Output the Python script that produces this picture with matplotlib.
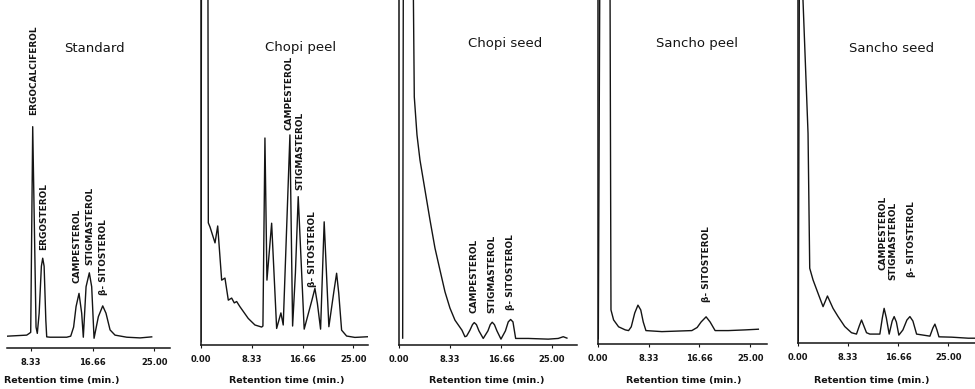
import matplotlib
matplotlib.use("Agg")
import matplotlib.pyplot as plt

# Retention time (min) / detector response (% of chart height).
# Values of 150 are the off-scale solvent front.
std_time   = [5.16, 7.77, 8.12, 8.31, 8.58, 9.03, 9.20, 9.45, 9.75, 9.93, 10.12, 10.35, 10.47,
              10.92, 13.17, 13.71, 14.10, 14.43, 14.83, 15.19, 15.41, 15.78, 16.22, 16.54, 16.86,
              17.44, 18.03, 18.47, 19.02, 19.69, 21.27, 23.07, 24.64]
std_signal = [3.4, 3.7, 4.2, 4.5, 63.6, 6.0, 4.2, 10.0, 23.5, 25.8, 23.5, 8.0, 3.2,
              3.1, 3.1, 3.4, 6.0, 11.9, 15.7, 10.0, 3.1, 17.6, 21.6, 17.6, 2.8,
              9.0, 12.1, 10.0, 5.2, 3.7, 3.1, 2.9, 3.2]

chopi_peel_time   = [0.0, 0.1, 1.1, 1.2, 1.48, 2.30, 2.74, 3.39, 3.93, 4.48, 5.03, 5.46, 5.85,
                     6.39, 7.75, 8.85, 9.95, 10.16, 10.49, 10.82, 11.59, 12.41, 13.11, 13.49,
                     14.59, 15.03, 15.49, 15.95, 16.93, 18.2, 18.69, 19.1, 19.62, 20.21, 20.98,
                     21.8, 22.25, 22.6, 23.07, 23.89, 25.25, 27.43]
chopi_peel_signal = [1.0, 150, 150, 35.4, 34.2, 29.6, 34.5, 18.8, 19.4, 13.0, 13.6, 12.2, 12.6,
                     11.1, 7.7, 5.8, 5.2, 5.5, 60.0, 18.8, 35.3, 4.8, 9.3, 5.8,
                     60.9, 5.5, 20.9, 43.0, 4.6, 13.0, 16.4, 12.0, 4.6, 35.7, 5.3,
                     15.5, 20.8, 15.0, 4.3, 2.6, 2.2, 2.4]

chopi_seed_time   = [0.60, 0.75, 2.10, 2.50, 2.94, 3.43, 4.25, 5.07, 5.88, 6.70, 7.52, 8.33,
                     9.15, 10.29, 10.78, 11.06, 11.60, 12.01, 12.30, 12.66, 13.07, 13.77,
                     14.54, 14.92, 15.24, 15.60, 16.01, 16.67, 17.40, 17.86, 18.25, 18.63,
                     19.07, 21.13, 24.40, 26.03, 26.85, 27.45]
chopi_seed_signal = [2.0, 150, 150, 71.9, 60.9, 53.6, 44.9, 36.2, 28.1, 21.7, 15.4, 10.7,
                     7.2, 4.3, 2.4, 2.6, 4.3, 5.9, 6.5, 5.9, 4.1, 1.9,
                     4.1, 5.9, 6.6, 5.9, 4.1, 1.7, 4.1, 6.7, 7.4, 6.7,
                     1.9, 1.9, 1.7, 1.9, 2.4, 2.0]

sancho_peel_time   = [0.05, 0.40, 1.90, 2.13, 2.56, 3.38, 4.48, 5.02, 5.46, 6.03, 6.56, 7.02,
                      7.43, 7.87, 10.49, 15.41, 16.28, 16.93, 17.75, 18.41, 19.23, 21.41,
                      24.15, 26.33]
sancho_peel_signal = [1.5, 150, 150, 9.9, 7.0, 5.0, 4.1, 3.9, 5.0, 9.0, 11.3, 9.9,
                      6.4, 3.9, 3.6, 3.9, 4.8, 6.4, 7.9, 6.4, 3.9, 3.9,
                      4.1, 4.3]

sancho_seed_time   = [0.05, 0.30, 0.80, 0.83, 1.67, 1.95, 2.50, 3.33, 4.17, 4.90, 5.83, 6.67,
                      7.78, 8.90, 9.73, 10.20, 10.57, 10.95, 11.40, 11.95, 13.62, 14.03,
                      14.33, 14.70, 15.17, 15.67, 16.00, 16.37, 16.78, 17.45, 18.12, 18.62,
                      19.12, 19.73, 21.95, 22.45, 22.78, 23.12, 23.45, 25.57, 28.33, 29.45]
sancho_seed_signal = [0.6, 150, 150, 100, 61.1, 21.8, 18.4, 14.5, 10.6, 13.7, 10.1, 7.7,
                      4.8, 3.0, 2.6, 5.0, 6.7, 5.0, 3.0, 2.6, 2.6, 7.3,
                      10.1, 7.3, 2.6, 6.4, 7.7, 6.1, 2.3, 3.8, 6.7, 7.7,
                      6.4, 2.6, 2.0, 4.4, 5.5, 3.8, 1.8, 1.7, 1.4, 1.4]

titles = ["Standard", "Chopi peel", "Chopi seed", "Sancho peel", "Sancho seed"]
tick_values = [0.0, 8.33, 16.66, 25.0]
tick_labels = ["0.00", "8.33", "16.66", "25.00"]
x_label = "Retention time (min.)"

# peak labels: (name, retention time, label baseline)
std_peaks = [("ERGOCALCIFEROL", 8.66, 67.0), ("ERGOSTEROL", 10.01, 28.2),
             ("CAMPESTEROL", 14.56, 18.7), ("STIGMASTEROL", 16.32, 23.9),
             ("\u03b2- SITOSTEROL", 18.20, 15.2)]
chopi_peel_peaks = [("CAMPESTEROL", 14.48, 62.3), ("STIGMASTEROL", 16.23, 44.9),
                    ("\u03b2- SITOSTEROL", 18.36, 16.8)]
chopi_seed_peaks = [("CAMPESTEROL", 12.25, 9.3), ("STIGMASTEROL", 15.15, 9.3),
                    ("\u03b2- SITOSTEROL", 18.30, 10.1)]
sancho_peel_peaks = [("\u03b2- SITOSTEROL", 17.87, 12.2)]
sancho_seed_peaks = [("CAMPESTEROL", 14.17, 21.3), ("STIGMASTEROL", 15.83, 18.4),
                     ("\u03b2- SITOSTEROL", 18.90, 19.2)]

W, H = 975, 389
fig = plt.figure(figsize=(W / 100, H / 100), dpi=100)

# layout in pixels: left, right, bottom axis line, x range, title pos, xlabel centre
panels = [
    (std_time, std_signal, std_peaks, 7, 170, 348, (5.11, 27.11), (94, 48), 62, False),
    (chopi_peel_time, chopi_peel_signal, chopi_peel_peaks, 201, 368, 345, (0, 27.4), (301, 47), 287, True),
    (chopi_seed_time, chopi_seed_signal, chopi_seed_peaks, 399, 577, 345, (0, 29.1), (505, 43), 487, True),
    (sancho_peel_time, sancho_peel_signal, sancho_peel_peaks, 598, 767, 344, (0, 27.75), (697, 43), 684, True),
    (sancho_seed_time, sancho_seed_signal, sancho_seed_peaks, 798, 975, 343, (0, 29.45), (892, 48), 872, True),
]

ink = "#141414"
for i, (t, s, peaks, left, right, bottom, xr, tpos, xlab, yaxis) in enumerate(panels):
    ax = fig.add_axes([left / W, (H - bottom) / H, (right - left) / W, bottom / H])
    ax.plot(t, s, color=ink, lw=1.0)
    # only the ticks that fall inside the panel (set_xticks would widen the view)
    ticks = [v for v in tick_values if xr[0] <= v <= xr[1]]
    labels = [l for v, l in zip(tick_values, tick_labels) if xr[0] <= v <= xr[1]]
    ax.set_xticks(ticks, labels)
    ax.set_xlim(*xr)
    ax.set_ylim(0, 100)
    ax.spines["top"].set_visible(False)
    ax.spines["right"].set_visible(False)
    ax.spines["left"].set_visible(yaxis)
    ax.spines["left"].set_linewidth(1.1)
    ax.spines["bottom"].set_linewidth(1.1)
    ax.spines["left"].set_color(ink)
    ax.spines["bottom"].set_color(ink)
    ax.set_yticks([])
    ax.tick_params(axis="x", length=2, width=0.8, pad=5, labelsize=6, colors=ink)
    for lab in ax.get_xticklabels():
        lab.set_fontweight("bold")
    ax.patch.set_alpha(0)

    for name, x, y in peaks:
        ax.text(x, y, name, rotation=90, ha="center", va="bottom", fontsize=6.4,
                fontweight="bold", color=ink)

    fig.text(tpos[0] / W, 1 - tpos[1] / H, titles[i], ha="center", va="center",
             fontsize=9.5, color=ink)
    fig.text(xlab / W, 1 - 380 / H, x_label, ha="center", va="center",
             fontsize=6.8, fontweight="bold", color=ink)

fig.savefig("out.png", dpi=100)
